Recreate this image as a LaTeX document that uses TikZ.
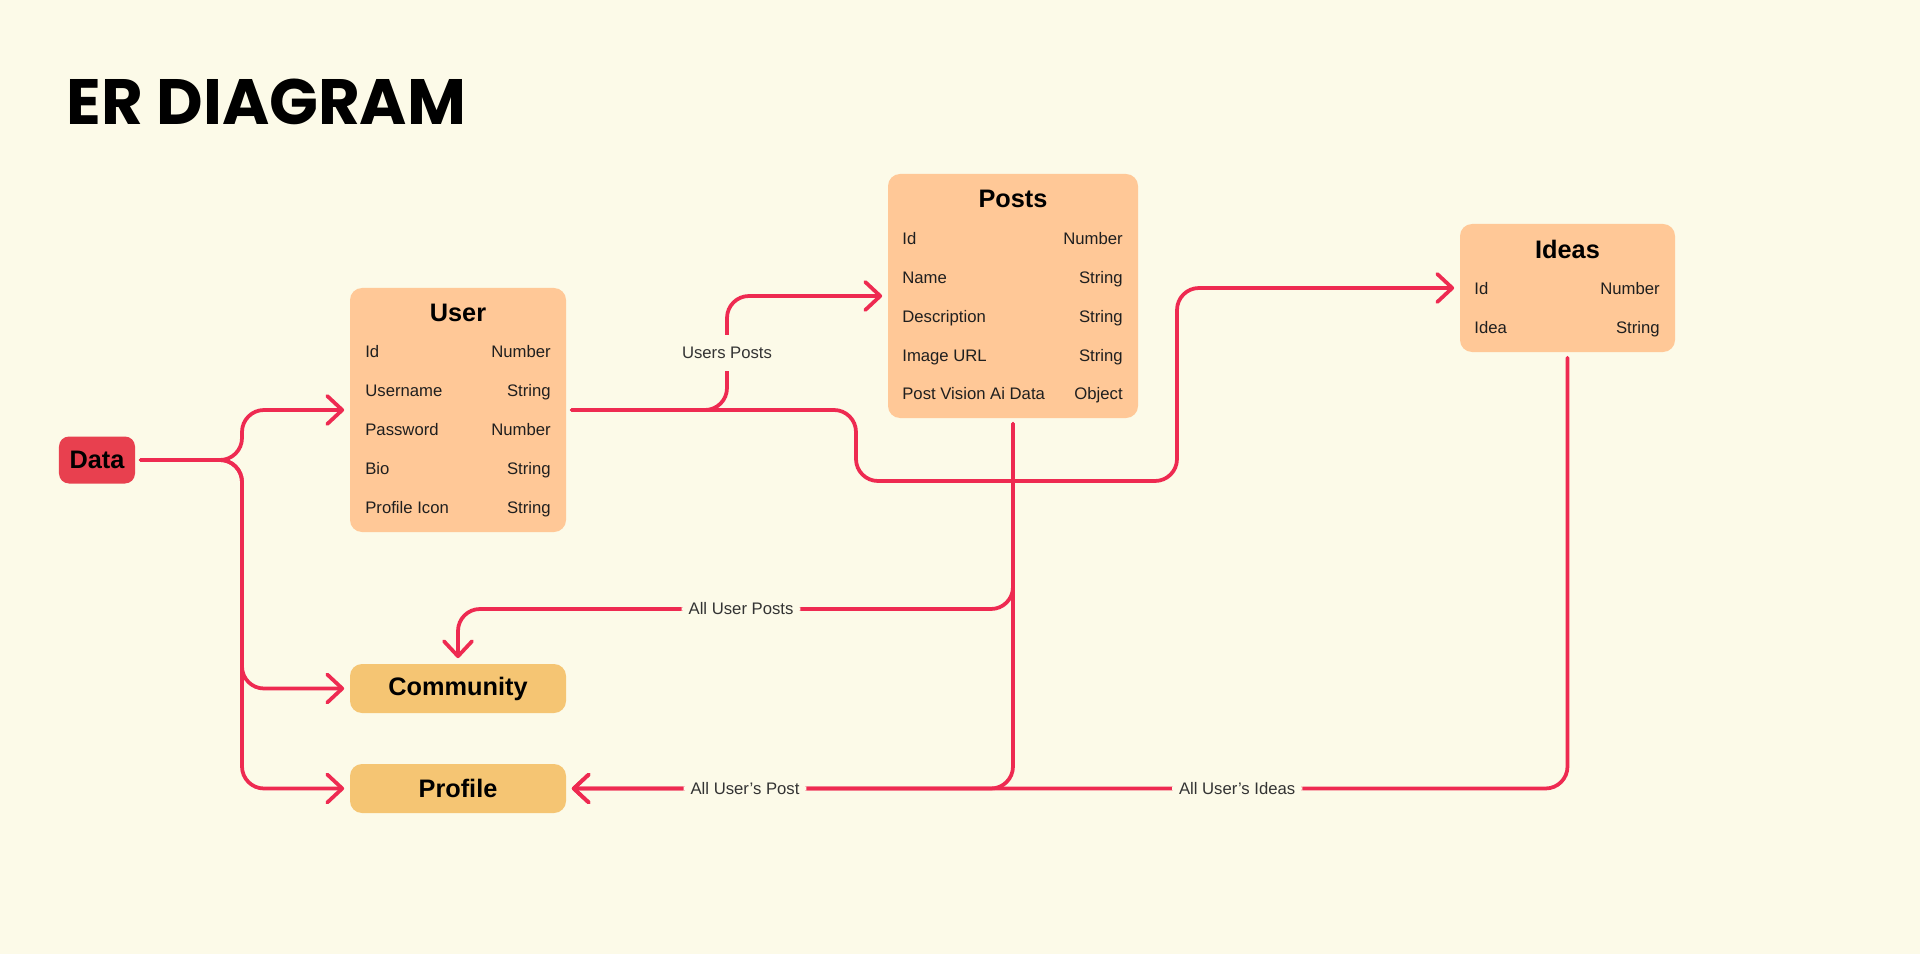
\documentclass[tikz,border=0pt]{standalone}
\usepackage{fontspec}
\setmainfont{Liberation Sans}
\newfontfamily\titlefont{Poppins}
\usetikzlibrary{arrows.meta}

\definecolor{paper}{HTML}{FCFAE8}
\definecolor{peach}{HTML}{FFC897}
\definecolor{sand}{HTML}{F5C573}
\definecolor{datared}{HTML}{E8404F}
\definecolor{wire}{HTML}{EE2A51}
\definecolor{inkgrey}{HTML}{333333}

\begin{document}
\begin{tikzpicture}[x=0.2mm, y=-0.2mm,
    entity/.style={fill=peach, rounded corners=2.4mm, inner sep=0pt},
    plainbox/.style={fill=sand, rounded corners=2.4mm, inner sep=0pt, minimum width=43.2mm, minimum height=9.8mm, font=\bfseries\fontsize{14.4pt}{16pt}\selectfont},
    head/.style={inner sep=0pt, anchor=mid, font=\bfseries\fontsize{14.4pt}{16pt}\selectfont},
    field/.style={inner sep=0pt, text=black!88, font=\fontsize{9.5pt}{11pt}\selectfont},
    tag/.style={fill=paper, text=inkgrey, inner xsep=1.4mm, inner ysep=2.4mm, font=\fontsize{9.5pt}{11pt}\selectfont},
    link/.style={wire, line width=0.75mm, line cap=round, rounded corners=4.4mm, shorten <=1.1mm, shorten >=1.1mm, -{Straight Barb[length=3mm, width=5.6mm, round]}}]

      \fill[paper] (0, 0) rectangle (1920, 954);
      \useasboundingbox (0, 0) rectangle (1920, 954);

      \node[anchor=base west, inner sep=0pt, font=\titlefont\bfseries\fontsize{36.5pt}{40pt}\selectfont] (title) at (66, 125) {ER DIAGRAM};

      \node[fill=datared, rounded corners=2mm, inner sep=0pt, minimum width=15.2mm, minimum height=9.4mm, font=\bfseries\fontsize{14.4pt}{16pt}\selectfont] (data) at (97, 460) {Data};

      \node[entity, minimum width=43.2mm, minimum height=48.8mm] (user) at (458, 410) {};
      \node[head] (user-head) at (458, 317) {User};
      \node[field, anchor=mid west] (user-f0) at (365, 353 + 39 * 0) {Id};
      \node[field, anchor=mid east] (user-t0) at (551, 353 + 39 * 0) {Number};
      \node[field, anchor=mid west] (user-f1) at (365, 353 + 39 * 1) {Username};
      \node[field, anchor=mid east] (user-t1) at (551, 353 + 39 * 1) {String};
      \node[field, anchor=mid west] (user-f2) at (365, 353 + 39 * 2) {Password};
      \node[field, anchor=mid east] (user-t2) at (551, 353 + 39 * 2) {Number};
      \node[field, anchor=mid west] (user-f3) at (365, 353 + 39 * 3) {Bio};
      \node[field, anchor=mid east] (user-t3) at (551, 353 + 39 * 3) {String};
      \node[field, anchor=mid west] (user-f4) at (365, 353 + 39 * 4) {Profile Icon};
      \node[field, anchor=mid east] (user-t4) at (551, 353 + 39 * 4) {String};

      \node[entity, minimum width=50mm, minimum height=48.8mm] (posts) at (1013, 296) {};
      \node[head] (posts-head) at (1013, 203) {Posts};
      \node[field, anchor=mid west] (posts-f0) at (902, 240 + 38.8 * 0) {Id};
      \node[field, anchor=mid east] (posts-t0) at (1123, 240 + 38.8 * 0) {Number};
      \node[field, anchor=mid west] (posts-f1) at (902, 240 + 38.8 * 1) {Name};
      \node[field, anchor=mid east] (posts-t1) at (1123, 240 + 38.8 * 1) {String};
      \node[field, anchor=mid west] (posts-f2) at (902, 240 + 38.8 * 2) {Description};
      \node[field, anchor=mid east] (posts-t2) at (1123, 240 + 38.8 * 2) {String};
      \node[field, anchor=mid west] (posts-f3) at (902, 240 + 38.8 * 3) {Image URL};
      \node[field, anchor=mid east] (posts-t3) at (1123, 240 + 38.8 * 3) {String};
      \node[field, anchor=mid west] (posts-f4) at (902, 240 + 38.8 * 4) {Post Vision Ai Data};
      \node[field, anchor=mid east] (posts-t4) at (1123, 240 + 38.8 * 4) {Object};

      \node[entity, minimum width=43mm, minimum height=25.6mm] (ideas) at (1567.5, 288) {};
      \node[head] (ideas-head) at (1567.5, 254) {Ideas};
      \node[field, anchor=mid west] (ideas-f0) at (1474, 290) {Id};
      \node[field, anchor=mid east] (ideas-t0) at (1660, 290) {Number};
      \node[field, anchor=mid west] (ideas-f1) at (1474, 329) {Idea};
      \node[field, anchor=mid east] (ideas-t1) at (1660, 329) {String};

      \node[plainbox] (community) at (458, 688.5) {Community};
      \node[plainbox] (profile) at (458, 788.5) {Profile};

      \coordinate (fork) at (242, 460);
      \draw[link] (data.east) -- (fork) |- (user.west);
      \draw[link] (data.east) -- (fork) |- (community.west);
      \draw[link] (data.east) -- (fork) |- (profile.west);

      \draw[link] (user.east) -- (856, 410) -- (856, 481) -- (1177, 481) |- (ideas.west);
      \draw[link] (user.east) -- (727, 410) |- node[tag, pos=0.25] {Users Posts} (posts.west);

      \draw[link] (ideas.south) |- node[tag, pos=0.665] {All User’s Ideas} (profile.east);
      \draw[link] (posts.south) |- node[tag, pos=0.8] {All User’s Post} (profile.east);
      \draw[link] (posts.south) -- (1013, 609) -| node[tag, pos=0.245] {All User Posts} (community.north);

    \end{tikzpicture}
\end{document}
